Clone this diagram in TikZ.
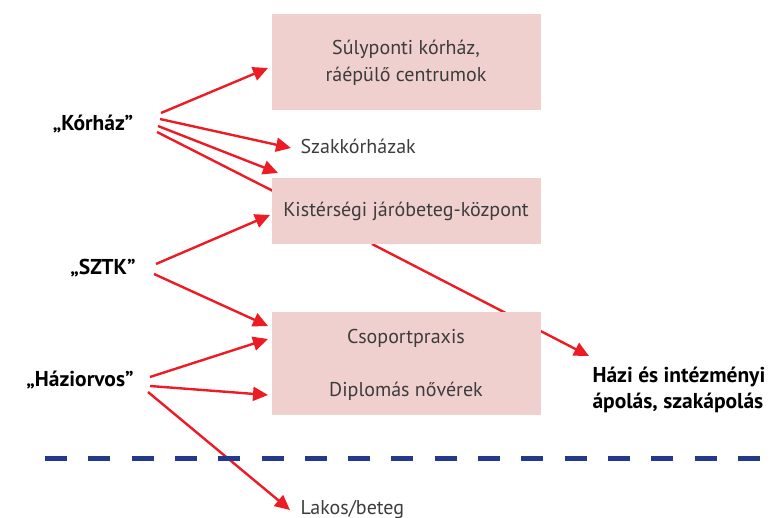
\documentclass[tikz,border=0pt]{standalone}
\usepackage{fontspec}
\setmainfont{PT Sans}
\usetikzlibrary{arrows.meta}
\definecolor{boxpink}{RGB}{240,208,206}
\definecolor{arrred}{RGB}{237,28,36}
\definecolor{dashblue}{RGB}{36,56,140}
\definecolor{txtgray}{RGB}{60,60,60}
\tikzset{
  pbox/.style={fill=boxpink, draw=none, minimum width=269pt, anchor=north west, inner sep=0pt},
  boxtxt/.style={font=\fontsize{20}{27}\selectfont, text=txtgray},
  lbl/.style={font=\fontsize{21.5}{26}\selectfont\bfseries, text=black},
  arr/.style={draw=arrred, line width=2.4pt, -{Triangle[length=15pt,width=14pt]}},
  plain/.style={draw=arrred, line width=2.4pt},
}
\begin{document}
\begin{tikzpicture}[x=1pt,y=-1pt]
\useasboundingbox (0,0) rectangle (776,518);
% labels
\node[lbl] (kor) at (93,124) {„Kórház”};
\node[lbl] (sztk) at (103,268) {„SZTK”};
\node[lbl] (hazi) at (80,380) {„Háziorvos”};
\node[boxtxt, anchor=west] (szak) at (297,146) {Szakkórházak};
\node[boxtxt, anchor=west] (lakos) at (297,509) {Lakos/beteg};
\node[lbl, anchor=west, align=left, font=\fontsize{21.5}{26}\selectfont\bfseries] (apol) at (589,390) {Házi és intézményi\\ápolás, szakápolás};
% connector end points
\coordinate (k1) at (161,113);
\coordinate (k2) at (160,119);
\coordinate (k3) at (158,126);
\coordinate (k4) at (157,132);
\coordinate (s1) at (156,264);
\coordinate (s2) at (154,274);
\coordinate (h1) at (150,377);
\coordinate (h2) at (150,386);
\coordinate (h3) at (148,392);
\coordinate (t1) at (268,68);
\coordinate (t2) at (291,148);
\coordinate (t3) at (278,173);
\coordinate (t4) at (275,192);
\coordinate (t5) at (270,215);
\coordinate (t6) at (268,326);
\coordinate (t7) at (268,339);
\coordinate (t8) at (268,395);
\coordinate (t9) at (290,510);
\coordinate (j0) at (372,244);
\coordinate (j1) at (589,356);
% arrows (drawn below the boxes)
\draw[arr] (k1) -- (t1);
\draw[arr] (k2) -- (t2);
\draw[arr] (k3) -- (t3);
\draw[plain] (k4) -- (t4);
\draw[arr] (s1) -- (t5);
\draw[arr] (s2) -- (t6);
\draw[arr] (h1) -- (t7);
\draw[arr] (h2) -- (t8);
\draw[arr] (h3) -- (t9);
\draw[arr] (j0) -- (j1);
% boxes
\node[pbox, minimum height=96pt] (b1) at (272,14) {};
\node[boxtxt, align=center] (b1t) at (406,63) {Súlyponti kórház,\\ráépülő centrumok};
\node[pbox, minimum height=66pt] (b2) at (272,178) {};
\node[boxtxt] (b2t) at (406,211) {Kistérségi járóbeteg-központ};
\node[pbox, minimum height=103pt] (b3) at (272,312) {};
\node[boxtxt] (b3a) at (406,338) {Csoportpraxis};
\node[boxtxt] (b3b) at (406,391) {Diplomás nővérek};
% dashed separator
\coordinate (d0) at (45,458);
\coordinate (d1) at (765,458);
\draw[dashblue, line width=5pt, dash pattern=on 22pt off 21.3pt] (d0) -- (d1);
\end{tikzpicture}
\end{document}
